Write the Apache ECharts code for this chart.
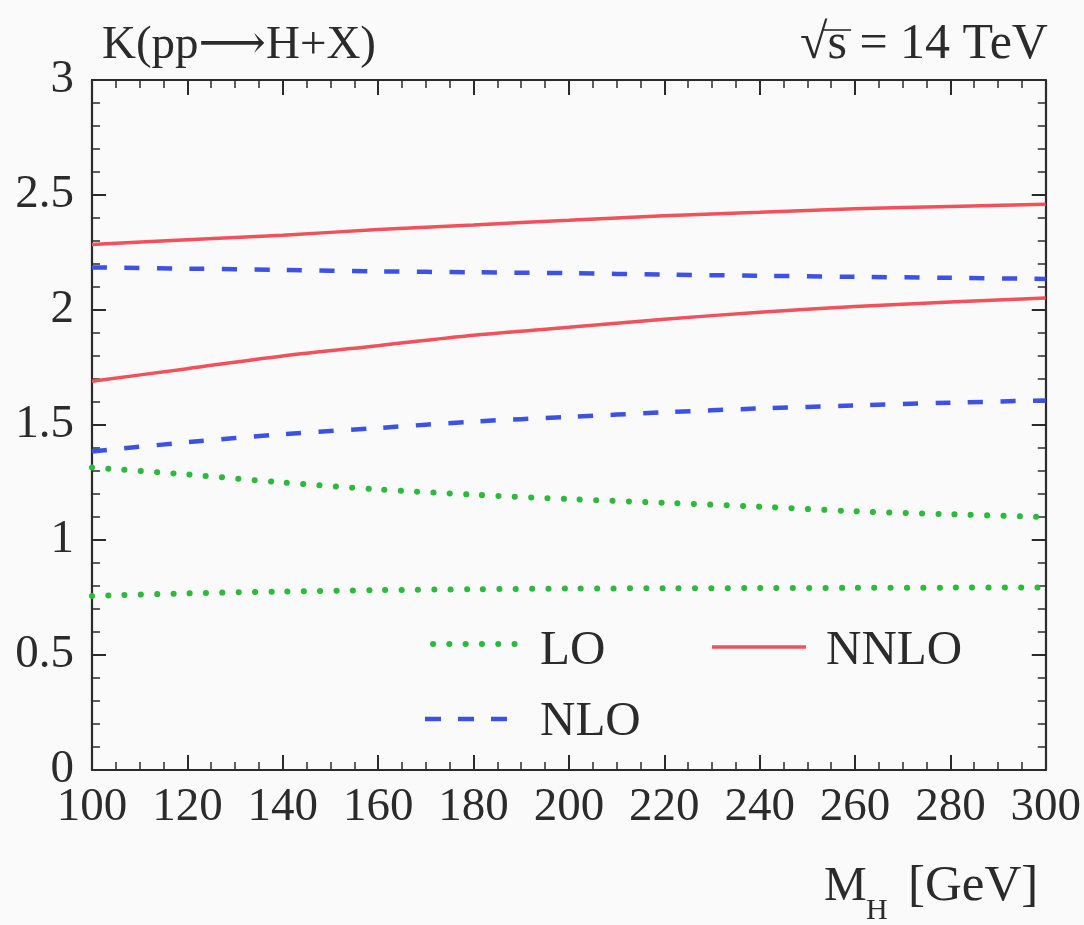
<!DOCTYPE html>
<html>
<head>
<meta charset="utf-8">
<script src="https://cdn.jsdelivr.net/npm/echarts@6/dist/echarts.min.js"></script>
<style>
  html, body { margin: 0; padding: 0; background: #fafafb; }
  #chart { width: 1084px; height: 925px; }
</style>
</head>
<body>
<div id="chart"></div>
<script>
// Higgs mass grid [GeV]
const massGeV = [100, 120, 140, 160, 180, 200, 220, 240, 260, 280, 300];

// K-factor band edges (upper / lower) for each perturbative order
const loUpper   = [1.315, 1.285, 1.250, 1.220, 1.197, 1.178, 1.162, 1.145, 1.125, 1.112, 1.100];
const loLower   = [0.757, 0.768, 0.776, 0.782, 0.786, 0.789, 0.790, 0.791, 0.792, 0.793, 0.794];
const nloUpper  = [2.185, 2.180, 2.174, 2.168, 2.164, 2.160, 2.154, 2.149, 2.144, 2.140, 2.135];
const nloLower  = [1.385, 1.425, 1.460, 1.487, 1.515, 1.535, 1.555, 1.572, 1.585, 1.597, 1.607];
const nnloUpper = [2.285, 2.305, 2.325, 2.350, 2.370, 2.390, 2.410, 2.425, 2.440, 2.450, 2.460];
const nnloLower = [1.690, 1.745, 1.800, 1.845, 1.890, 1.925, 1.960, 1.990, 2.015, 2.035, 2.052];

const xTickLabels = ['100', '120', '140', '160', '180', '200', '220', '240', '260', '280', '300'];
const yTickLabels = ['0', '0.5', '1', '1.5', '2', '2.5', '3'];

const FONT = '"Liberation Serif", "DejaVu Serif", serif';
const INK = '#2b2b2b';
const RED = '#f2505a';
const BLUE = '#3c52e4';
const GREEN = '#2cba3c';

const styles = {
  LO:   { color: GREEN, width: 6, type: [0.1, 16.2], cap: 'round' },
  NLO:  { color: BLUE,  width: 4.5, type: [15, 17.5], cap: 'butt' },
  NNLO: { color: RED,   width: 3.5, type: 'solid', cap: 'butt' }
};

function pairs(ys) { return massGeV.map((m, i) => [m, ys[i]]); }
function curve(name, ys) {
  return {
    name: name, type: 'line', data: pairs(ys), smooth: 0.3,
    showSymbol: false, symbol: 'none', silent: true, animation: false,
    xAxisIndex: 0, yAxisIndex: 0,
    lineStyle: Object.assign({}, styles[name])
  };
}

const xLabelMap = {}; massGeV.forEach((m, i) => { xLabelMap[m] = xTickLabels[i]; });
const yVals = [0, 0.5, 1, 1.5, 2, 2.5, 3];
const yLabelMap = {}; yVals.forEach((v, i) => { yLabelMap[v.toFixed(1)] = yTickLabels[i]; });

const axisLine = { show: true, onZero: false, lineStyle: { color: INK, width: 2.2 } };
const majorTick = (len) => ({ show: true, inside: true, length: len, lineStyle: { color: INK, width: 2 } });
const minorTick = (n, len) => ({ show: true, splitNumber: n, length: len, lineStyle: { color: INK, width: 1.5 } });

const chart = echarts.init(document.getElementById('chart'), null, { renderer: 'canvas' });

const textStyle = (size) => ({ font: size + 'px ' + FONT, fill: INK });

chart.setOption({
  backgroundColor: '#fafafb',
  animation: false,
  grid: { left: 92, right: 36, top: 80, bottom: 155, containLabel: false },
  xAxis: [
    {
      type: 'value', min: 100, max: 300, interval: 20, position: 'bottom',
      axisLine: axisLine, axisTick: majorTick(15), minorTick: minorTick(4, 8),
      splitLine: { show: false },
      axisLabel: {
        color: INK, fontFamily: FONT, fontSize: 47, margin: 14,
        formatter: (v) => xLabelMap[v] || ''
      }
    },
    {
      type: 'value', min: 100, max: 300, interval: 20, position: 'top',
      axisLine: axisLine, axisTick: majorTick(15), minorTick: minorTick(4, 8),
      splitLine: { show: false }, axisLabel: { show: false }
    }
  ],
  yAxis: [
    {
      type: 'value', min: 0, max: 3, interval: 0.5, position: 'left',
      axisLine: axisLine, axisTick: majorTick(14), minorTick: minorTick(5, 8),
      splitLine: { show: false },
      axisLabel: {
        color: INK, fontFamily: FONT, fontSize: 47, margin: 18,
        formatter: (v) => yLabelMap[Number(v).toFixed(1)] || ''
      }
    },
    {
      type: 'value', min: 0, max: 3, interval: 0.5, position: 'right',
      axisLine: axisLine, axisTick: majorTick(14), minorTick: minorTick(5, 8),
      splitLine: { show: false }, axisLabel: { show: false }
    }
  ],
  series: [
    curve('LO', loUpper),
    curve('LO', loLower),
    curve('NLO', nloUpper),
    curve('NLO', nloLower),
    curve('NNLO', nnloUpper),
    curve('NNLO', nnloLower)
  ],
  graphic: [
    // observable (y) and collider energy
    { type: 'text', left: 102, top: 22,
      style: Object.assign({ text: 'K(pp\u27F6H+X)' }, textStyle(47)) },
    { type: 'text', left: 800, top: 20,
      style: Object.assign({ text: '\u221As = 14 TeV' }, textStyle(50)) },
    { type: 'line', shape: { x1: 823, y1: 30, x2: 851, y2: 30 },
      style: { stroke: INK, lineWidth: 1.6 } },
    // x-axis title, M with subscript H
    { type: 'text', left: 824, top: 863, style: Object.assign({ text: 'M' }, textStyle(48)) },
    { type: 'text', left: 866, top: 896, style: Object.assign({ text: 'H' }, textStyle(30)) },
    { type: 'text', left: 908, top: 861, style: Object.assign({ text: '[GeV]' }, textStyle(51)) },
    // legend
    { type: 'line', shape: { x1: 433, y1: 644, x2: 515, y2: 644 },
      style: { stroke: GREEN, lineWidth: 6, lineDash: [0.1, 16.2], lineCap: 'round' } },
    { type: 'text', left: 540, top: 627, style: Object.assign({ text: 'LO' }, textStyle(49)) },
    { type: 'line', shape: { x1: 425, y1: 719, x2: 508, y2: 719 },
      style: { stroke: BLUE, lineWidth: 4.5, lineDash: [16, 17] } },
    { type: 'text', left: 540, top: 698, style: Object.assign({ text: 'NLO' }, textStyle(49)) },
    { type: 'line', shape: { x1: 712, y1: 647, x2: 806, y2: 647 },
      style: { stroke: RED, lineWidth: 3.5 } },
    { type: 'text', left: 826, top: 627, style: Object.assign({ text: 'NNLO' }, textStyle(49)) }
  ]
});
</script>
</body>
</html>
